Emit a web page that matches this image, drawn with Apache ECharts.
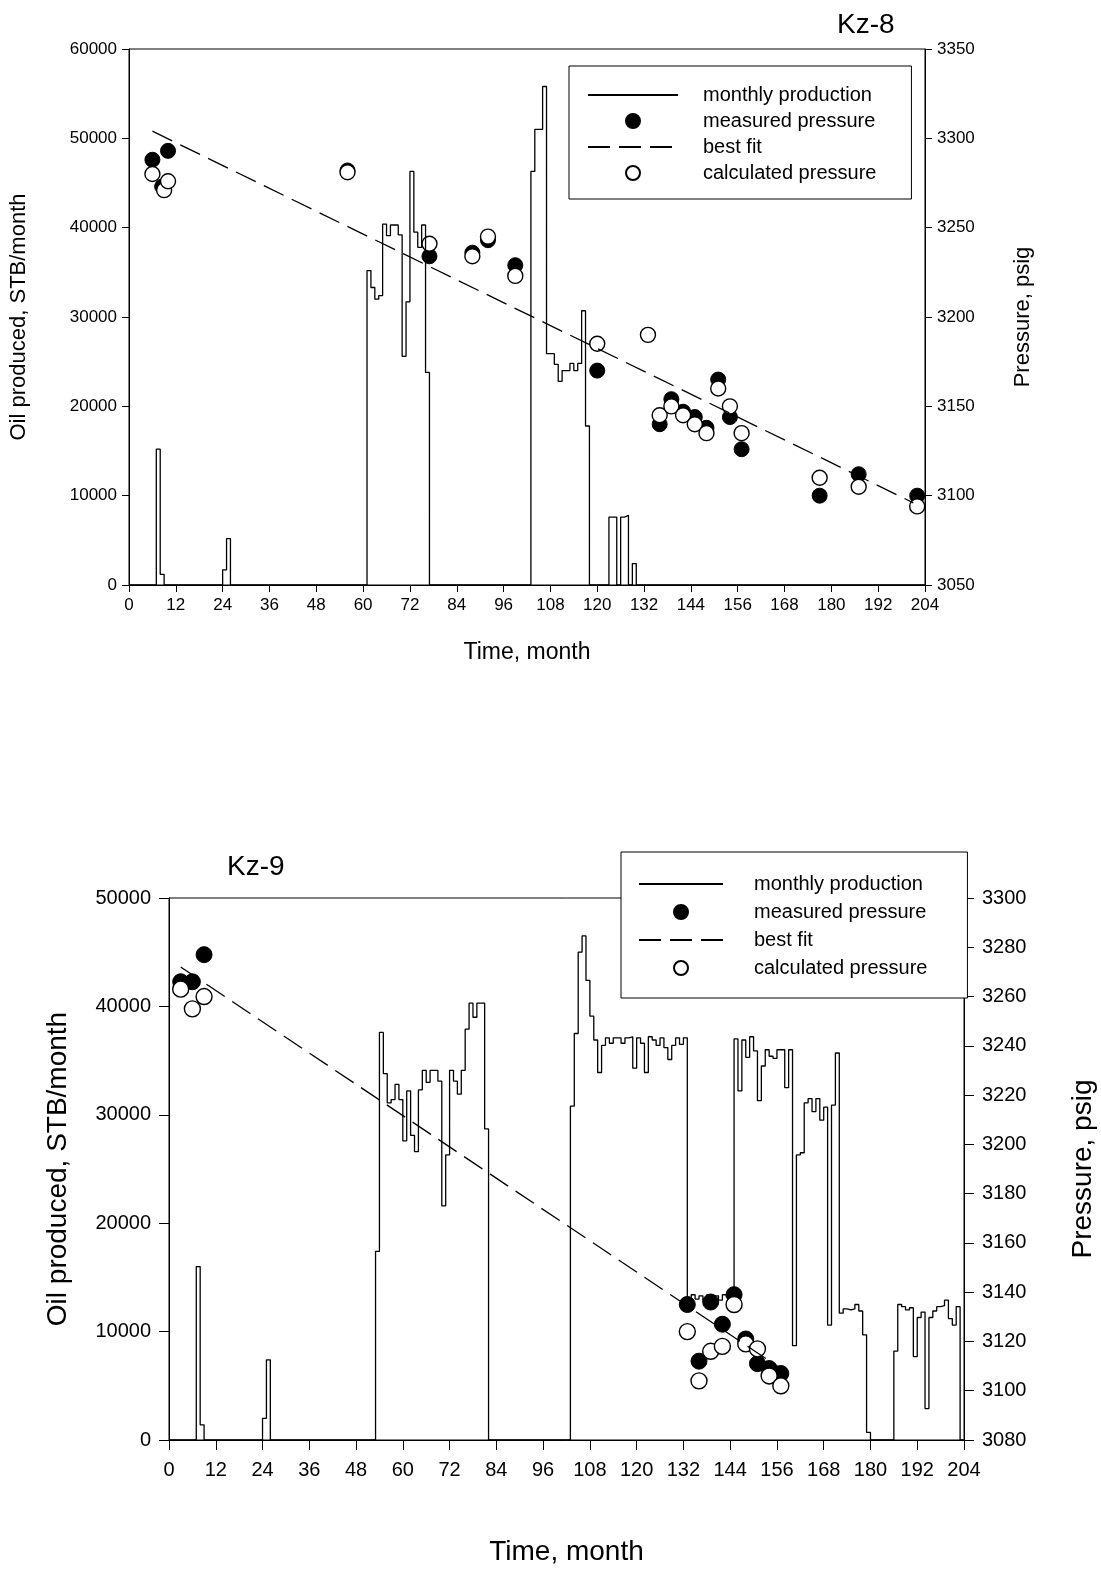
<!DOCTYPE html>
<html>
<head>
<meta charset="utf-8">
<script src="https://cdn.jsdelivr.net/npm/echarts@6/dist/echarts.min.js"></script>
<style>
  html, body { margin: 0; padding: 0; background: #fff; }
  #chart { width: 1101px; height: 1571px; }
</style>
</head>
<body>
<div id="chart"></div>
<script>
// legend names
var seriesNames = ['monthly production', 'measured pressure', 'best fit', 'calculated pressure'];

// Kz-8 monthly oil production, STB/month, month 0..203 (12 per row)
var kz8Production = [
    0, 0, 0, 0, 0, 0, 0, 15200, 1200, 0, 0, 0,
    0, 0, 0, 0, 0, 0, 0, 0, 0, 0, 0, 0,
    1700, 5200, 0, 0, 0, 0, 0, 0, 0, 0, 0, 0,
    0, 0, 0, 0, 0, 0, 0, 0, 0, 0, 0, 0,
    0, 0, 0, 0, 0, 0, 0, 0, 0, 0, 0, 0,
    0, 35200, 33300, 32000, 32400, 40400, 39100, 40300, 40300, 39200, 25600, 31700,
    46300, 39500, 37800, 40300, 23800, 0, 0, 0, 0, 0, 0, 0,
    0, 0, 0, 0, 0, 0, 0, 0, 0, 0, 0, 0,
    0, 0, 0, 0, 0, 0, 0, 46300, 51000, 51000, 55800, 25900,
    25900, 24700, 22800, 24000, 24000, 24800, 24000, 24800, 30700, 17800, 0, 0,
    0, 0, 0, 7600, 7600, 0, 7600, 7800, 0, 2400, 0, 0,
    0, 0, 0, 0, 0, 0, 0, 0, 0, 0, 0, 0,
    0, 0, 0, 0, 0, 0, 0, 0, 0, 0, 0, 0,
    0, 0, 0, 0, 0, 0, 0, 0, 0, 0, 0, 0,
    0, 0, 0, 0, 0, 0, 0, 0, 0, 0, 0, 0,
    0, 0, 0, 0, 0, 0, 0, 0, 0, 0, 0, 0,
    0, 0, 0, 0, 0, 0, 0, 0, 0, 0, 0, 0
];
// Kz-8 pressures [month, psig]
var kz8Measured = [
    [6, 3288], [8.5, 3273], [10, 3293], [56, 3282], [77, 3234], [88, 3236], [92, 3243],
    [99, 3229], [120, 3170], [136, 3140], [139, 3154], [142, 3147], [145, 3144],
    [148, 3138], [151, 3165], [154, 3144], [157, 3126], [177, 3100], [187, 3112], [202, 3100]
];
var kz8Calculated = [
    [6, 3280], [9, 3271], [10, 3276], [56, 3281], [77, 3241], [88, 3234], [92, 3245],
    [99, 3223], [120, 3185], [133, 3190], [136, 3145], [139, 3150], [142, 3145],
    [145, 3140], [148, 3135], [151, 3160], [154, 3150], [157, 3135], [177, 3110],
    [187, 3105], [202, 3094]
];
var kz8BestFit = [[6, 3304], [201, 3096]];

// Kz-9 monthly oil production, STB/month, month 0..203
var kz9Production = [
    0, 0, 0, 0, 0, 0, 0, 16000, 1400, 0, 0, 0,
    0, 0, 0, 0, 0, 0, 0, 0, 0, 0, 0, 0,
    2000, 7400, 0, 0, 0, 0, 0, 0, 0, 0, 0, 0,
    0, 0, 0, 0, 0, 0, 0, 0, 0, 0, 0, 0,
    0, 0, 0, 0, 0, 17400, 37600, 33800, 31100, 31400, 32800, 31400,
    27600, 32200, 28100, 26600, 32300, 34100, 33000, 34100, 34100, 33100, 21600, 26300,
    34100, 33100, 31900, 34100, 37900, 40300, 39000, 40300, 40300, 28700, 0, 0,
    0, 0, 0, 0, 0, 0, 0, 0, 0, 0, 0, 0,
    0, 0, 0, 0, 0, 0, 0, 30800, 37500, 45000, 46500, 42400,
    39100, 36900, 33900, 36400, 37100, 36600, 37100, 37100, 36600, 37100, 37200, 34300,
    37100, 36600, 33900, 37200, 36900, 36400, 37100, 36200, 35100, 36400, 37100, 36500,
    37100, 13000, 13400, 13000, 13300, 12900, 13400, 13000, 13300, 12900, 13400, 13200,
    13600, 37000, 32200, 36900, 35300, 37200, 35900, 31300, 34500, 36000, 35400, 35200,
    36000, 36000, 32500, 36000, 8700, 26300, 26500, 31100, 31500, 30300, 31500, 29500,
    30700, 10600, 30900, 35700, 11700, 12100, 12000, 12100, 12500, 11900, 9700, 700,
    0, 0, 0, 0, 0, 0, 8200, 12500, 12300, 12000, 12200, 7700,
    11300, 11800, 2900, 11300, 11900, 12300, 12400, 12900, 11200, 10600, 12300, 0
];
var kz9Measured = [
    [3, 3266], [6, 3266], [9, 3277], [133, 3135], [136, 3112], [139, 3136], [142, 3127],
    [145, 3139], [148, 3121], [151, 3111], [154, 3109], [157, 3107]
];
var kz9Calculated = [
    [3, 3263], [6, 3255], [9, 3260], [133, 3124], [136, 3104], [139, 3116], [142, 3118],
    [145, 3135], [148, 3119], [151, 3117], [154, 3106], [157, 3102]
];
var kz9BestFit = [[3, 3272], [157, 3109]];

var FONT = 'Liberation Sans, Arial, sans-serif';

// step line points: value of month i holds over [i, i+1)
function stepData(arr) {
    var out = [];
    for (var i = 0; i < arr.length; i++) {
        out.push([i, arr[i]]);
    }
    out.push([arr.length, 0]);
    return out;
}

function plain(v) { return String(v); }

function xAxisFor(grid, fontSize, margin, tickLen, nameGap, nameSize) {
    return {
        gridIndex: grid, type: 'value', min: 0, max: 204, interval: 12,
        name: 'Time, month', nameLocation: 'middle', nameGap: nameGap,
        nameTextStyle: { fontFamily: FONT, fontSize: nameSize, color: '#000' },
        axisLine: { lineStyle: { color: '#000', width: 1 } },
        axisTick: { length: tickLen, lineStyle: { color: '#000' } },
        axisLabel: { fontFamily: FONT, fontSize: fontSize, color: '#000', margin: margin, formatter: plain },
        splitLine: { show: false }
    };
}

function yAxisFor(grid, pos, min, max, step, name, fontSize, margin, tickLen, nameGap, nameSize) {
    return {
        gridIndex: grid, type: 'value', position: pos, min: min, max: max, interval: step,
        name: name, nameLocation: 'middle', nameGap: nameGap, nameRotate: 90,
        nameTextStyle: { fontFamily: FONT, fontSize: nameSize, color: '#000' },
        axisLine: { show: true, lineStyle: { color: '#000', width: 1 } },
        axisTick: { show: true, length: tickLen, lineStyle: { color: '#000' } },
        axisLabel: { fontFamily: FONT, fontSize: fontSize, color: '#000', margin: margin, formatter: plain },
        splitLine: { show: false }
    };
}

// line entries get no marker in the legend, only the stroke
function legendItems() {
    return seriesNames.map(function (n) {
        if (n === 'monthly production' || n === 'best fit') {
            return { name: n, itemStyle: { opacity: 0 } };
        }
        return { name: n };
    });
}

function legendFor(left, top, padding, itemWidth, itemGap, textPad) {
    return {
        data: legendItems(), orient: 'vertical', left: left, top: top,
        padding: padding, itemWidth: itemWidth, itemHeight: 14, itemGap: itemGap,
        backgroundColor: '#fff', borderColor: '#000', borderWidth: 1,
        textStyle: { fontFamily: FONT, fontSize: 20, color: '#000', padding: [0, 0, 0, textPad] },
        selectedMode: false
    };
}

function wellSeries(xi, yLeft, yRight, prod, fit, meas, calc, symSize) {
    return [
        {
            name: 'monthly production', type: 'line', xAxisIndex: xi, yAxisIndex: yLeft,
            step: 'end', symbol: 'none', data: stepData(prod),
            lineStyle: { color: '#000', width: 1.3 }, itemStyle: { color: '#000' }
        },
        {
            name: 'best fit', type: 'line', xAxisIndex: xi, yAxisIndex: yRight,
            symbol: 'none', data: fit,
            lineStyle: { color: '#000', width: 1.3, type: [22, 9] }, itemStyle: { color: '#000' }
        },
        {
            name: 'measured pressure', type: 'scatter', xAxisIndex: xi, yAxisIndex: yRight,
            symbol: 'circle', symbolSize: symSize, data: meas,
            itemStyle: { color: '#000', borderColor: '#000', borderWidth: 1, opacity: 1 }
        },
        {
            name: 'calculated pressure', type: 'scatter', xAxisIndex: xi, yAxisIndex: yRight,
            symbol: 'circle', symbolSize: symSize, data: calc,
            itemStyle: { color: '#fff', borderColor: '#000', borderWidth: 1.4, opacity: 1 }
        }
    ];
}

var chart = echarts.init(document.getElementById('chart'), null, { renderer: 'canvas' });

var option = {
    animation: false,
    backgroundColor: '#fff',
    title: [
        { text: 'Kz-8', left: 832, top: 6, textStyle: { fontFamily: FONT, fontSize: 28, fontWeight: 'normal', color: '#000' } },
        { text: 'Kz-9', left: 222, top: 848, textStyle: { fontFamily: FONT, fontSize: 28, fontWeight: 'normal', color: '#000' } }
    ],
    grid: [
        { left: 129, top: 49, width: 796, height: 536, outerBoundsMode: 'none',
          show: true, borderColor: '#000', borderWidth: 1, backgroundColor: 'transparent' },
        { left: 169, top: 898, width: 795, height: 542, outerBoundsMode: 'none',
          show: true, borderColor: '#000', borderWidth: 1, backgroundColor: 'transparent' }
    ],
    xAxis: [
        xAxisFor(0, 17, 12, 7, 56, 23),
        xAxisFor(1, 20, 20, 10, 98, 28)
    ],
    yAxis: [
        yAxisFor(0, 'left', 0, 60000, 10000, 'Oil produced, STB/month', 17, 12, 7, 99, 22),
        yAxisFor(0, 'right', 3050, 3350, 50, 'Pressure, psig', 17, 12, 7, 87, 22),
        yAxisFor(1, 'left', 0, 50000, 10000, 'Oil produced, STB/month', 20, 18, 10, 97, 28),
        yAxisFor(1, 'right', 3080, 3300, 20, 'Pressure, psig', 20, 18, 10, 105, 28)
    ],
    legend: [
        legendFor(569, 66, [19, 35, 16, 18], 90, 6, 20),
        legendFor(621, 852, [22, 40, 20, 17], 84, 8, 26)
    ],
    series: [].concat(
        wellSeries(0, 0, 1, kz8Production, kz8BestFit, kz8Measured, kz8Calculated, 15),
        wellSeries(1, 2, 3, kz9Production, kz9BestFit, kz9Measured, kz9Calculated, 16)
    )
};

chart.setOption(option);
</script>
</body>
</html>
